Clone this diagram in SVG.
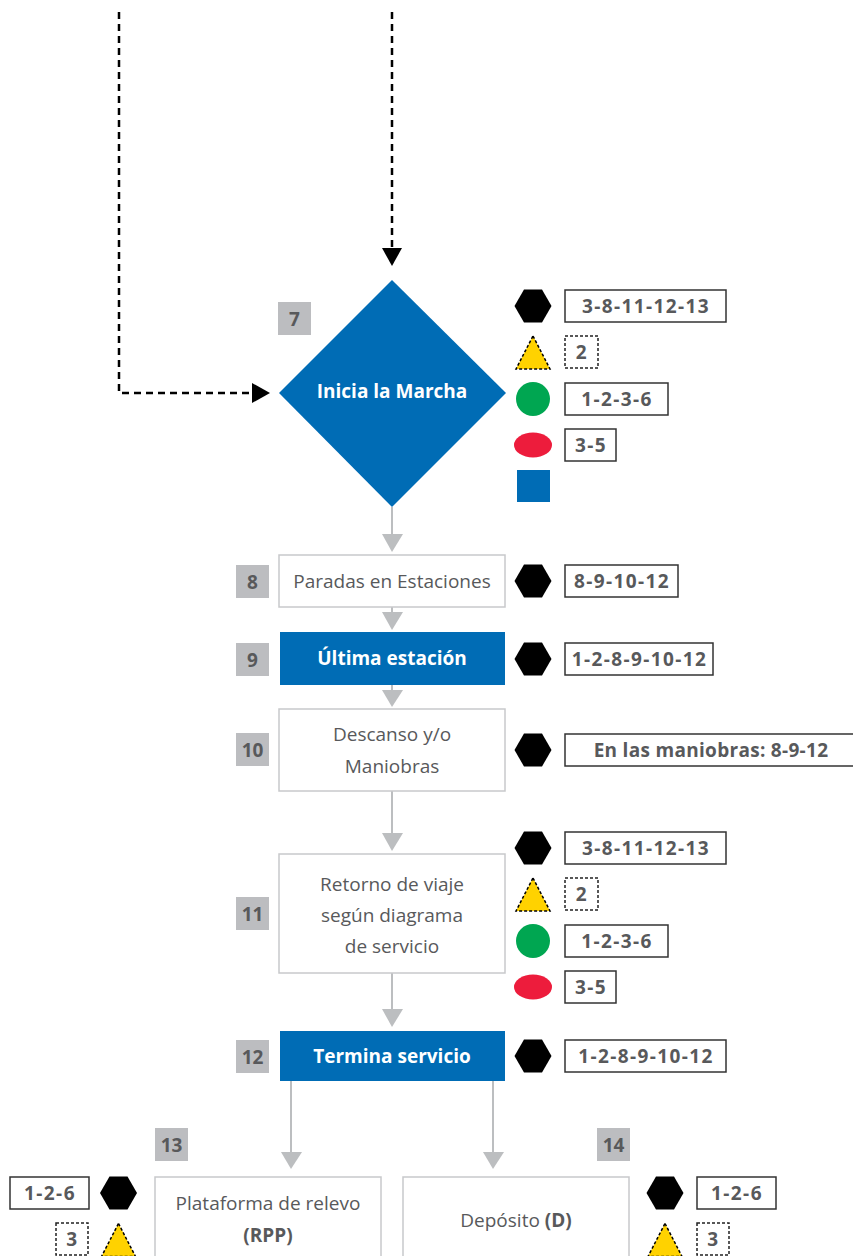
<svg xmlns="http://www.w3.org/2000/svg" width="853" height="1256" viewBox="0 0 853 1256">
<defs>
<style>
.bg{fill:#ffffff}
.dash{fill:none;stroke:#000;stroke-width:2.5;stroke-dasharray:7,5}
.gl{fill:none;stroke:#bcbec0;stroke-width:2}
.garr{fill:#bcbec0}
.barr{fill:#000}
.blue{fill:#006cb5}
.wbox{fill:#fff;stroke:#c8c9cb;stroke-width:1.5}
.num{fill:#bcbdc0}
.numt{font-family:"Open Sans","Liberation Sans",sans-serif;font-weight:bold;font-size:19px;fill:#58595b;text-anchor:middle}
.wt{font-family:"Open Sans","Liberation Sans",sans-serif;font-weight:bold;font-size:19px;fill:#fff;text-anchor:middle}
.gt{font-family:"Open Sans","Liberation Sans",sans-serif;font-size:19px;fill:#58595b;text-anchor:middle}
.lbox{fill:#fff;stroke:#333;stroke-width:1.5}
.lboxd{fill:#fff;stroke:#222;stroke-width:1.5;stroke-dasharray:3,2}
.lt{font-family:"Open Sans","Liberation Sans",sans-serif;font-weight:bold;font-size:19px;letter-spacing:1.4px;fill:#58595b;text-anchor:middle}
.hex{fill:#000}
.tri{fill:#ffd200;stroke:#000;stroke-width:1.5;stroke-dasharray:3,2}
.grn{fill:#00a651}
.red{fill:#ed1c3c}
</style>
<polygon id="hexs" points="-18.5,0 -9,-16.5 9,-16.5 18.5,0 9,16.5 -9,16.5"/>
<polygon id="tris" points="0,-16.5 17,16.5 -17,16.5"/>
</defs>
<rect class="bg" x="0" y="0" width="853" height="1256"/>

<g id="connectors">
<path class="dash" d="M119,12 V393 H254"/>
<polygon class="barr" points="252,383 270,393 252,403"/>
<path class="dash" d="M392,12 V250"/>
<polygon class="barr" points="382,248 402,248 392,266"/>
<line class="gl" x1="392" y1="507" x2="392" y2="536"/>
<polygon class="garr" points="382,534 403,534 392,552"/>
<line class="gl" x1="392" y1="607" x2="392" y2="614"/>
<polygon class="garr" points="382,612 403,612 392,630"/>
<line class="gl" x1="392" y1="685" x2="392" y2="692"/>
<polygon class="garr" points="382,690 403,690 392,707"/>
<line class="gl" x1="392" y1="791" x2="392" y2="835"/>
<polygon class="garr" points="382,833 403,833 392,851"/>
<line class="gl" x1="392" y1="973" x2="392" y2="1011"/>
<polygon class="garr" points="382,1009 403,1009 392,1027"/>
<line class="gl" x1="291" y1="1081" x2="291" y2="1154"/>
<polygon class="garr" points="281,1152 302,1152 291,1169"/>
<line class="gl" x1="493" y1="1081" x2="493" y2="1154"/>
<polygon class="garr" points="483,1152 504,1152 493,1169"/>
</g>

<g id="node7">
<polygon class="blue" points="392,280 506,393 392,507 279,393"/>
<text class="wt" x="392" y="398">Inicia la Marcha</text>
<rect class="num" x="278" y="302" width="33" height="33"/>
<text class="numt" x="294.5" y="325.5">7</text>
<use href="#hexs" class="hex" x="533" y="306"/>
<rect class="lbox" x="565" y="290" width="161" height="32"/>
<text class="lt" x="646" y="313">3-8-11-12-13</text>
<use href="#tris" class="tri" x="533" y="352.5"/>
<rect class="lboxd" x="565" y="336" width="33" height="32"/>
<text class="lt" x="582" y="359">2</text>
<circle class="grn" cx="533" cy="399" r="17"/>
<rect class="lbox" x="565" y="383" width="103" height="32"/>
<text class="lt" x="617" y="406">1-2-3-6</text>
<ellipse class="red" cx="533" cy="445" rx="19" ry="12.5"/>
<rect class="lbox" x="565" y="429" width="51" height="32"/>
<text class="lt" x="591" y="452">3-5</text>
<rect class="blue" x="517" y="470" width="33" height="32"/>
</g>

<g id="node8">
<rect class="wbox" x="279" y="555" width="226" height="52"/>
<text class="gt" x="392" y="588">Paradas en Estaciones</text>
<rect class="num" x="236" y="565" width="33" height="33"/>
<text class="numt" x="252.5" y="588.5">8</text>
<use href="#hexs" class="hex" x="533" y="581"/>
<rect class="lbox" x="565" y="565" width="113" height="32"/>
<text class="lt" x="622" y="588">8-9-10-12</text>
</g>

<g id="node9">
<rect class="blue" x="280" y="632" width="225" height="53"/>
<text class="wt" x="392" y="665">Última estación</text>
<rect class="num" x="236" y="643" width="33" height="33"/>
<text class="numt" x="252.5" y="666.5">9</text>
<use href="#hexs" class="hex" x="533" y="659"/>
<rect class="lbox" x="565" y="643" width="148" height="32"/>
<text class="lt" x="639.5" y="666">1-2-8-9-10-12</text>
</g>

<g id="node10">
<rect class="wbox" x="279" y="709" width="226" height="82"/>
<text class="gt" x="392" y="741">Descanso y/o</text>
<text class="gt" x="392" y="773">Maniobras</text>
<rect class="num" x="236" y="733" width="33" height="33"/>
<text class="numt" x="252.5" y="756.5">10</text>
<use href="#hexs" class="hex" x="533" y="750"/>
<rect class="lbox" x="565" y="734" width="292" height="32"/>
<text class="lt" x="711" y="757" style="letter-spacing:0.3px">En las maniobras: 8-9-12</text>
</g>

<g id="node11">
<rect class="wbox" x="279" y="854" width="226" height="119"/>
<text class="gt" x="392" y="891">Retorno de viaje</text>
<text class="gt" x="392" y="922">según diagrama</text>
<text class="gt" x="392" y="953">de servicio</text>
<rect class="num" x="236" y="897" width="33" height="33"/>
<text class="numt" x="252.5" y="920.5">11</text>
<use href="#hexs" class="hex" x="533" y="848"/>
<rect class="lbox" x="565" y="832" width="161" height="32"/>
<text class="lt" x="646" y="855">3-8-11-12-13</text>
<use href="#tris" class="tri" x="533" y="894.5"/>
<rect class="lboxd" x="565" y="878" width="33" height="32"/>
<text class="lt" x="582" y="901">2</text>
<circle class="grn" cx="533" cy="941" r="17"/>
<rect class="lbox" x="565" y="925" width="103" height="32"/>
<text class="lt" x="617" y="948">1-2-3-6</text>
<ellipse class="red" cx="533" cy="987" rx="19" ry="12.5"/>
<rect class="lbox" x="565" y="971" width="51" height="32"/>
<text class="lt" x="591" y="994">3-5</text>
</g>

<g id="node12">
<rect class="blue" x="280" y="1031" width="225" height="50"/>
<text class="wt" x="392" y="1063">Termina servicio</text>
<rect class="num" x="236" y="1040" width="33" height="33"/>
<text class="numt" x="252.5" y="1063.5">12</text>
<use href="#hexs" class="hex" x="533" y="1056"/>
<rect class="lbox" x="565" y="1040" width="161" height="32"/>
<text class="lt" x="646" y="1063">1-2-8-9-10-12</text>
</g>

<g id="node13">
<rect class="wbox" x="155" y="1177" width="226" height="90"/>
<text class="gt" x="268" y="1210">Plataforma de relevo</text>
<text class="gt" x="268" y="1242" font-weight="bold">(RPP)</text>
<rect class="num" x="155" y="1128" width="33" height="33"/>
<text class="numt" x="171.5" y="1151.5">13</text>
<rect class="lbox" x="10" y="1177" width="79" height="32"/>
<text class="lt" x="50" y="1200">1-2-6</text>
<use href="#hexs" class="hex" x="118.5" y="1193"/>
<rect class="lboxd" x="56" y="1223" width="32" height="32"/>
<text class="lt" x="72.5" y="1246">3</text>
<use href="#tris" class="tri" x="118.5" y="1240"/>
</g>

<g id="node14">
<rect class="wbox" x="403" y="1177" width="226" height="90"/>
<text class="gt" x="516" y="1227">Depósito <tspan font-weight="bold">(D)</tspan></text>
<rect class="num" x="597" y="1128" width="33" height="33"/>
<text class="numt" x="613.5" y="1151.5">14</text>
<use href="#hexs" class="hex" x="665" y="1193"/>
<rect class="lbox" x="697" y="1177" width="79" height="32"/>
<text class="lt" x="737" y="1200">1-2-6</text>
<use href="#tris" class="tri" x="665" y="1240"/>
<rect class="lboxd" x="697" y="1223" width="32" height="32"/>
<text class="lt" x="713.5" y="1246">3</text>
</g>
</svg>
